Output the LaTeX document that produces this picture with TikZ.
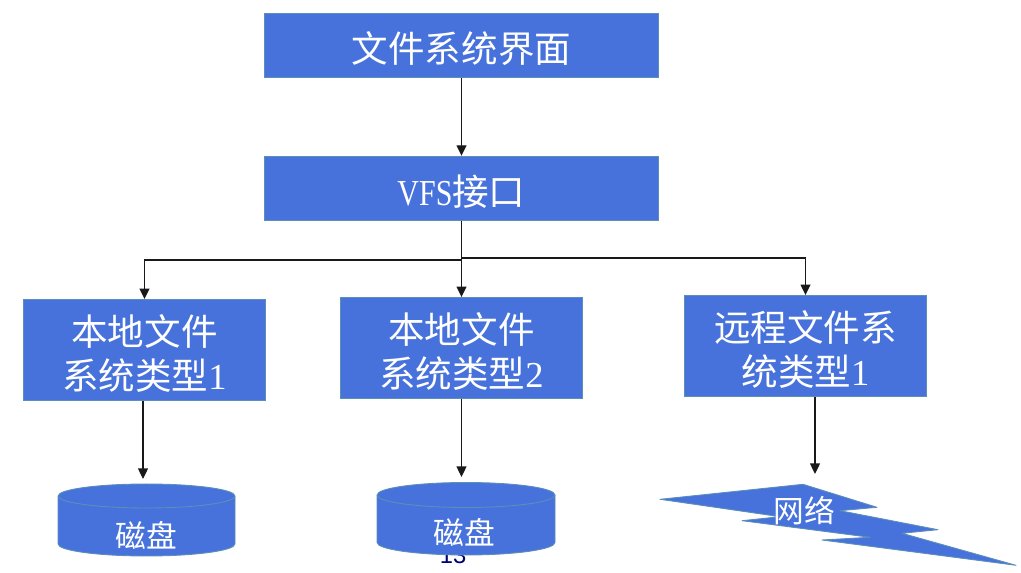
\documentclass[tikz,border=0pt]{standalone}
\usepackage{fontspec}
\usetikzlibrary{arrows.meta}
\newfontfamily\cjk{Noto Sans CJK SC}
\newfontfamily\latin[FakeStretch=0.82]{Liberation Serif}
\newfontfamily\digit{Liberation Serif}
\newfontfamily\pagefont{Liberation Sans}
\definecolor{boxblue}{HTML}{4772DC}
\definecolor{boxline}{HTML}{5B8FB8}
\newcommand{\lowertext}{\rule{0pt}{21.5pt}}
\begin{document}
\begin{tikzpicture}[x=0.02cm, y=-0.02cm]
  \useasboundingbox (0, 0) rectangle (1021, 573);

  \tikzstyle{layer}=[draw=boxline, line width=0.5pt, fill=boxblue, text=white, inner sep=0pt, align=center, font=\cjk\fontsize{20.8}{24.6}\selectfont]
  \tikzstyle{caption}=[text=white, inner sep=0pt, font=\cjk\fontsize{17.5}{21}\selectfont]
  \tikzstyle{flow}=[draw=black!90, line width=0.8pt, -{Triangle[length=6pt, width=5.6pt]}]
  \tikzstyle{bluefill}=[draw=boxline, line width=0.5pt, line join=round, fill=boxblue]

  % Seitenzahl.
  \node[inner sep=0pt, text=blue!45!black, font=\pagefont\fontsize{13.5}{16}\selectfont] (page) at (453, 555) {13};

  % Schichten.
  \node[layer, minimum width=7.88cm, minimum height=1.29cm] (ui) at (461.5, 45.5) {\lowertext 文件系统界面};
  \node[layer, minimum width=7.88cm, minimum height=1.29cm] (vfs) at (461.5, 188.5) {\lowertext{\latin VFS}接口};
  \node[layer, minimum width=4.84cm, minimum height=2.02cm] (local1) at (144.5, 350) {\lowertext 本地文件\\系统类型{\digit 1}};
  \node[layer, minimum width=4.84cm, minimum height=2.02cm] (local2) at (461.5, 348) {\lowertext 本地文件\\系统类型{\digit 2}};
  \node[layer, minimum width=4.84cm, minimum height=2.02cm] (remote) at (805.5, 346) {\lowertext 远程文件系\\统类型{\digit 1}};

  % Platten.
  \draw[bluefill] (58, 496) arc (180:360:88.5 and 12) -- (235, 544) arc (0:180:88.5 and 12) -- cycle;
  \draw[boxline, line width=0.5pt] (58, 496) arc (180:0:88.5 and 12);
  \draw[bluefill] (377, 495) arc (180:360:89 and 12.5) -- (555, 542.5) arc (0:180:89 and 12.5) -- cycle;
  \draw[boxline, line width=0.5pt] (377, 495) arc (180:0:89 and 12.5);
  \node[caption] (disk1) at (146, 535) {磁盘};
  \node[caption] (disk2) at (464, 532) {磁盘};

  % Netz.
  \draw[bluefill] (660, 499.3) -- (803, 484.3) -- (877, 507.3) -- (840, 510.7) -- (938, 529.7) -- (902, 533.3)
    -- (1016, 565.3) -- (822, 540) -- (870, 537.3) -- (742, 520.7) -- (780, 516.7) -- cycle;
  \node[caption] (net) at (804, 511) {网络};

  % Pfeile.
  \coordinate (left) at (144.5, 260);
  \coordinate (right) at (805.5, 258);
  \coordinate (disk1in) at (143, 479);
  \coordinate (disk2in) at (461.5, 477);
  \coordinate (netin) at (815, 474);

  \path[flow] (ui) -- (vfs);
  \path[flow] (vfs) -- (local2);
  \path[flow] (vfs.south) |- (left) -- (local1.north);
  \path[flow] (vfs.south) |- (right) -- (remote.north);
  \path[flow] (local1.south -| disk1in) -- (disk1in);
  \path[flow] (local2.south -| disk2in) -- (disk2in);
  \path[flow] (remote.south -| netin) -- (netin);
\end{tikzpicture}
\end{document}
